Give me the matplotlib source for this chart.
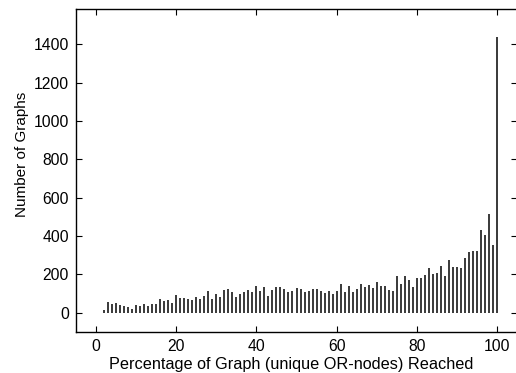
import matplotlib
matplotlib.use("Agg")
import matplotlib.pyplot as plt

plt.rcParams['font.family'] = ['Liberation Sans', 'DejaVu Sans']

percent = list(range(2, 101))
counts = [15, 58, 47, 50, 43, 33, 32, 20, 39, 33,
          44, 35, 47, 47, 70, 60, 68, 53, 91, 79,
          75, 74, 69, 81, 71, 86, 114, 74, 100, 84,
          118, 126, 111, 84, 99, 111, 120, 107, 142, 116,
          136, 86, 117, 136, 132, 124, 108, 116, 129, 122,
          106, 113, 126, 126, 112, 101, 112, 99, 113, 152,
          110, 138, 108, 122, 148, 137, 144, 127, 158, 142,
          139, 118, 114, 194, 148, 193, 173, 132, 182, 180,
          198, 231, 204, 208, 246, 194, 276, 238, 241, 234,
          286, 319, 321, 324, 430, 406, 517, 352, 1435]
xticks = [0, 20, 40, 60, 80, 100]
yticks = [0, 200, 400, 600, 800, 1000, 1200, 1400]

W, H = 516, 373
fig = plt.figure(figsize=(W / 100, H / 100), dpi=100)
l, r, t, b = 76, 517, 9, 332
ax = fig.add_axes([l / W, 1 - b / H, (r - l) / W, (b - t) / H])

ax.vlines(percent, 0, counts, color='#2a2a2a', linewidth=1.3)

ax.set_xlim(-5, 105)
ax.set_ylim(-100, 1583)
ax.set_xticks(xticks)
ax.set_yticks(yticks)
ax.tick_params(direction='in', length=4.5, width=0.8, top=True, right=True,
               labelsize=11.3, pad=5, colors='black')
for s in ax.spines.values():
    s.set_linewidth(1.0)
    s.set_color('black')

fig.text(291 / W, 1 - 364 / H, 'Percentage of Graph (unique OR-nodes) Reached',
         ha='center', va='center', fontsize=11.7)
fig.text(22 / W, 1 - 154 / H, 'Number of Graphs', rotation=90,
         ha='center', va='center', fontsize=11)

fig.savefig('out.png', dpi=100)
